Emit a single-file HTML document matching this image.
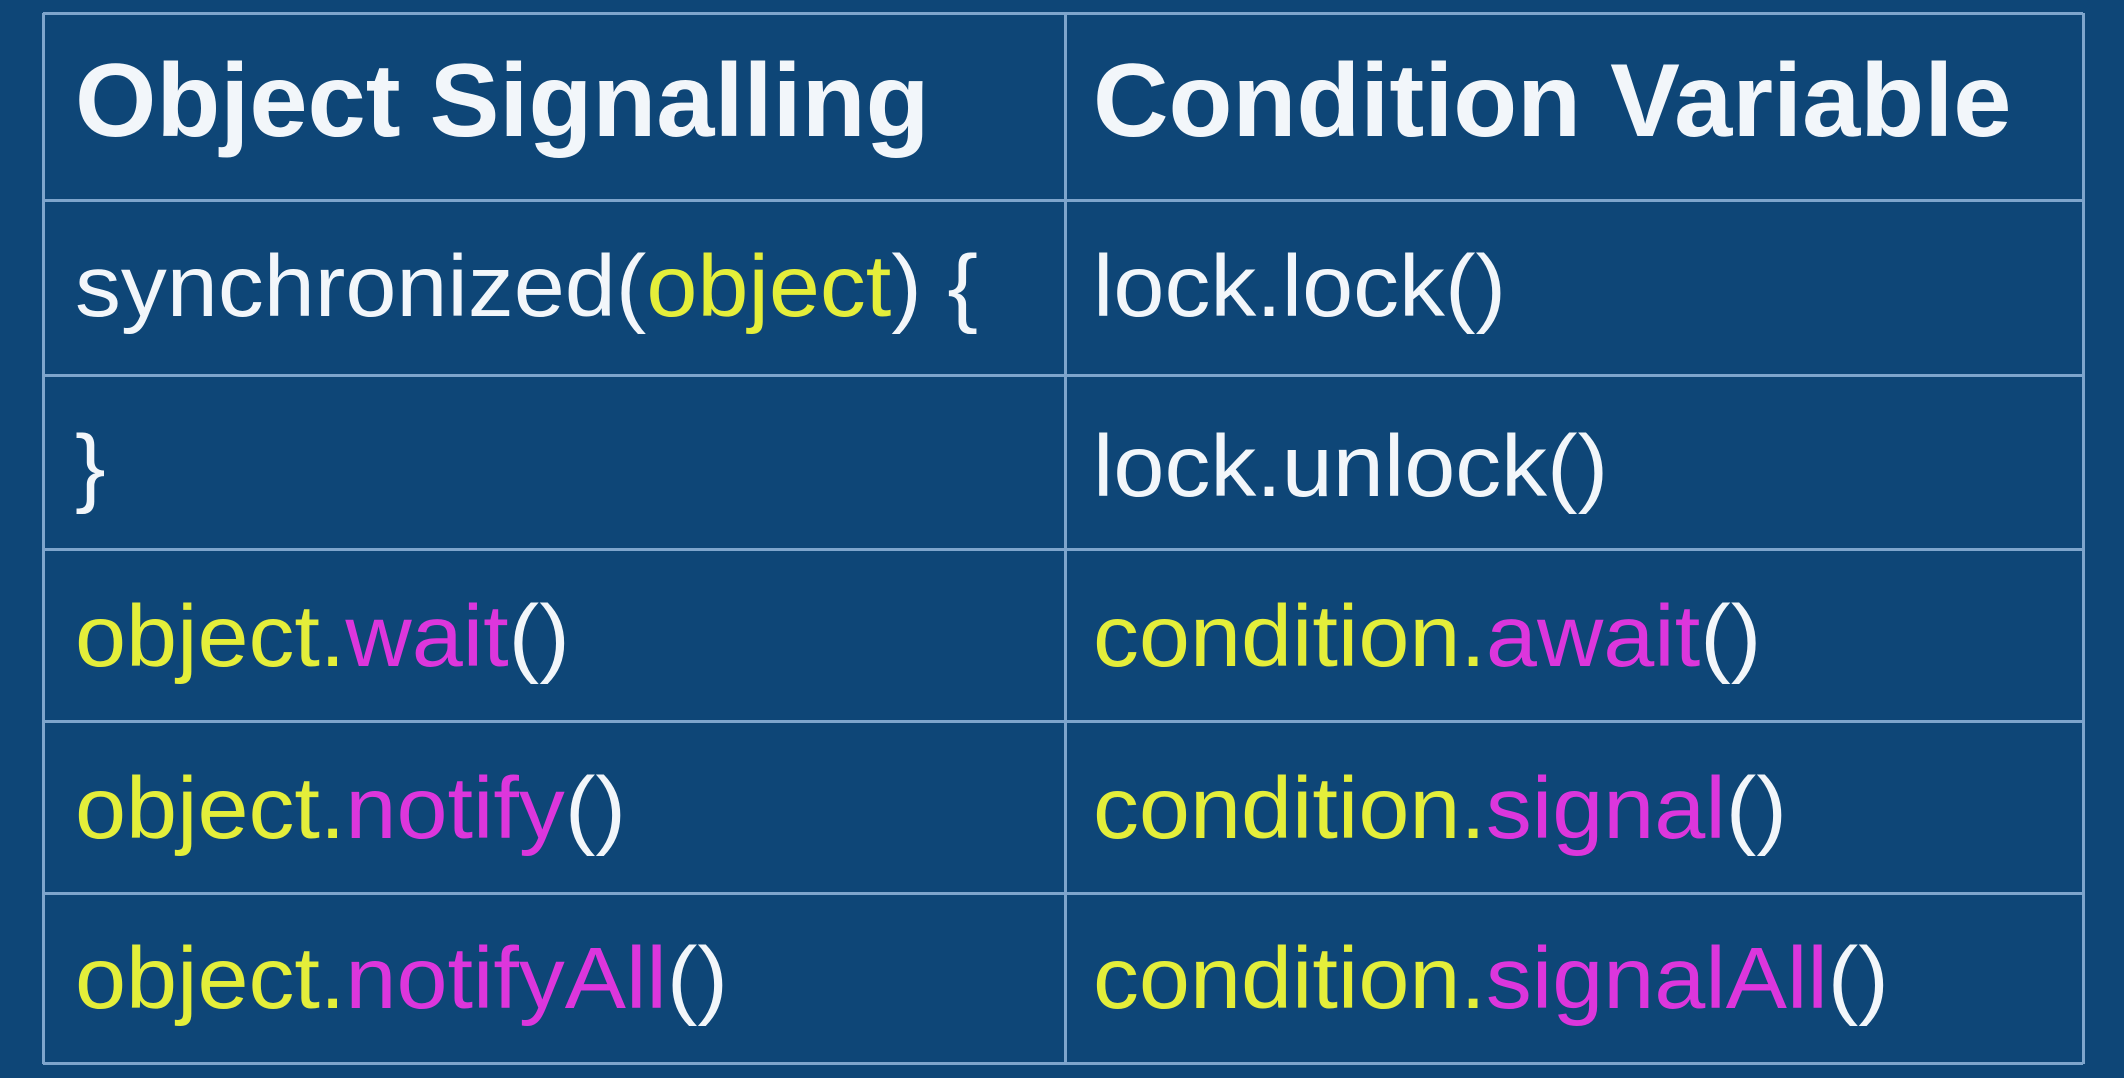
<!DOCTYPE html>
<html><head><meta charset="utf-8"><style>
html,body{margin:0;padding:0;}
body{width:2124px;height:1078px;background:#0e4677;position:relative;overflow:hidden;font-family:"Liberation Sans",sans-serif;}
.h{position:absolute;left:43px;width:2040px;height:3px;background:#7ea5cc;}
.v{position:absolute;top:13px;width:3px;height:1051px;background:#7ea5cc;}
.t{position:absolute;white-space:nowrap;color:#f2f6fa;font-size:87px;line-height:1;transform:scaleX(1.055);transform-origin:0 0;}
.b{font-weight:bold;font-size:104px;transform:scaleX(1.006);}
.y{color:#e4ee3a;}
.m{color:#dc36dc;}
</style></head><body>
<div class="h" style="top:12px"></div>
<div class="h" style="top:199px"></div>
<div class="h" style="top:374px"></div>
<div class="h" style="top:548px"></div>
<div class="h" style="top:720px"></div>
<div class="h" style="top:892px"></div>
<div class="h" style="top:1062px"></div>
<div class="v" style="left:42px"></div>
<div class="v" style="left:1064px"></div>
<div class="v" style="left:2082px"></div>

<div class="t b" style="left:75px;top:49px">Object Signalling</div>
<div class="t b" style="left:1093px;top:49px">Condition Variable</div>

<div class="t" style="left:75px;top:243px">synchronized(<span class="y">object</span>) {</div>
<div class="t" style="left:1093px;top:243px">lock.lock()</div>

<div class="t" style="left:75px;top:423px">}</div>
<div class="t" style="left:1093px;top:423px">lock.unlock()</div>

<div class="t" style="left:75px;top:593px"><span class="y">object.</span><span class="m">wait</span>()</div>
<div class="t" style="left:1093px;top:593px"><span class="y">condition.</span><span class="m">await</span>()</div>

<div class="t" style="left:75px;top:765px"><span class="y">object.</span><span class="m">notify</span>()</div>
<div class="t" style="left:1093px;top:765px"><span class="y">condition.</span><span class="m">signal</span>()</div>

<div class="t" style="left:75px;top:935px"><span class="y">object.</span><span class="m">notifyAll</span>()</div>
<div class="t" style="left:1093px;top:935px"><span class="y">condition.</span><span class="m">signalAll</span>()</div>
</body></html>
